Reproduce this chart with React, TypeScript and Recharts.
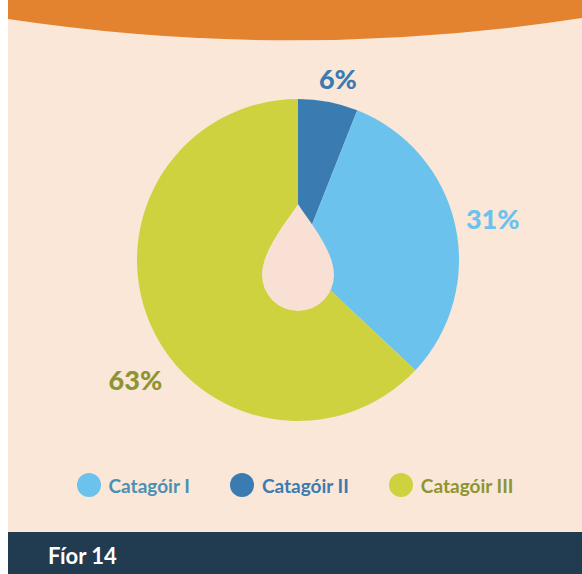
import { Cell, Legend, Pie, PieChart } from "recharts";

const categories = ["Catagóir I", "Catagóir II", "Catagóir III"];
const shares = [31, 6, 63];
// drawing order: clockwise from 12 o'clock
const sliceOrder = [1, 0, 2];

const SLICE_COLORS = ["#6bc2ec", "#3a7bb2", "#ced23f"];
const LABEL_COLORS = ["#6bc2ec", "#3a7bb2", "#8d9432"];
const LEGEND_TEXT = ["#4a90b3", "#3a7bb2", "#8d9432"];

// per-slice label nudges (radius px, angle deg) in drawing order
const LABEL_RADIUS = [186, 199, 202];
const LABEL_SHIFT = [-1.6, -0.7, 13];

const W = 574;
const H = 574;
const CX = 290;
const CY = 260;
const R = 161;
const RAD = Math.PI / 180;

const pieData = sliceOrder.map((i) => ({
  name: categories[i],
  value: shares[i],
  fill: SLICE_COLORS[i],
  labelColor: LABEL_COLORS[i],
}));

const legendData = categories.map((name, i) => ({
  name,
  fill: SLICE_COLORS[i],
  text: LEGEND_TEXT[i],
}));

function renderLabel(props: any) {
  const { cx, cy, midAngle, index, value } = props;
  const a = (midAngle + LABEL_SHIFT[index]) * RAD;
  const r = LABEL_RADIUS[index];
  const x = cx + r * Math.cos(a);
  const y = cy - r * Math.sin(a);
  return (
    <text
      x={x}
      y={y}
      textAnchor="middle"
      dominantBaseline="central"
      fill={pieData[index].labelColor}
      fontSize={27}
      fontWeight={900}
      fontFamily="Lato"
    >
      {`${value}%`}
    </text>
  );
}

const dropPath = `M${CX} 204 C${CX + 10} 220, ${CX + 36} 250, ${CX + 36} 275 A36 36 0 0 1 ${CX - 36} 275 C${CX - 36} 250, ${CX - 10} 220, ${CX} 204 Z`;

function LegendContent() {
  return (
    <div
      style={{
        display: "flex",
        justifyContent: "center",
        alignItems: "center",
        gap: 40,
        fontFamily: "Lato",
        fontWeight: 700,
        fontSize: 19,
      }}
    >
      {legendData.map((item) => (
        <div key={item.name} style={{ display: "flex", alignItems: "center" }}>
          <span
            style={{
              width: 24,
              height: 24,
              borderRadius: 12,
              background: item.fill,
              marginRight: 8,
              display: "inline-block",
            }}
          />
          <span style={{ color: item.text }}>{item.name}</span>
        </div>
      ))}
    </div>
  );
}

export default function App() {
  return (
    <div
      style={{
        position: "absolute",
        left: 8,
        top: 0,
        width: W,
        height: H,
        background: "#fae7d7",
        overflow: "hidden",
      }}
    >
      <svg
        width={W}
        height={60}
        style={{ position: "absolute", left: 0, top: 0 }}
      >
        <path d={`M0 0 H${W} V18 Q${W / 2} 62 0 19 Z`} fill="#e3832f" />
      </svg>

      <div style={{ position: "absolute", left: 0, top: 0 }}>
        <PieChart width={W} height={532} margin={{ top: 0, right: 0, bottom: 0, left: 0 }}>
          <Pie
            data={pieData}
            dataKey="value"
            cx={CX}
            cy={CY}
            outerRadius={R}
            startAngle={90}
            endAngle={-270}
            stroke="none"
            label={renderLabel}
            labelLine={false}
            isAnimationActive={false}
          >
            {pieData.map((entry) => (
              <Cell key={entry.name} fill={entry.fill} />
            ))}
          </Pie>
          <Legend
            layout="horizontal"
            verticalAlign="middle"
            content={LegendContent}
            wrapperStyle={{ top: 473, left: 0, width: W }}
          />
        </PieChart>
      </div>

      {/* decorative drop over the centre of the pie */}
      <svg
        width={W}
        height={532}
        style={{ position: "absolute", left: 0, top: 0, pointerEvents: "none" }}
      >
        <path d={dropPath} fill="#f9e0d4" />
      </svg>

      <div
        style={{
          position: "absolute",
          left: 0,
          top: 532,
          width: W,
          height: 42,
          background: "#213b51",
        }}
      >
        <span
          style={{
            position: "absolute",
            left: 40,
            top: 10,
            color: "#ffffff",
            fontFamily: "Lato",
            fontWeight: 700,
            fontSize: 22,
          }}
        >
          Fíor 14
        </span>
      </div>
    </div>
  );
}
